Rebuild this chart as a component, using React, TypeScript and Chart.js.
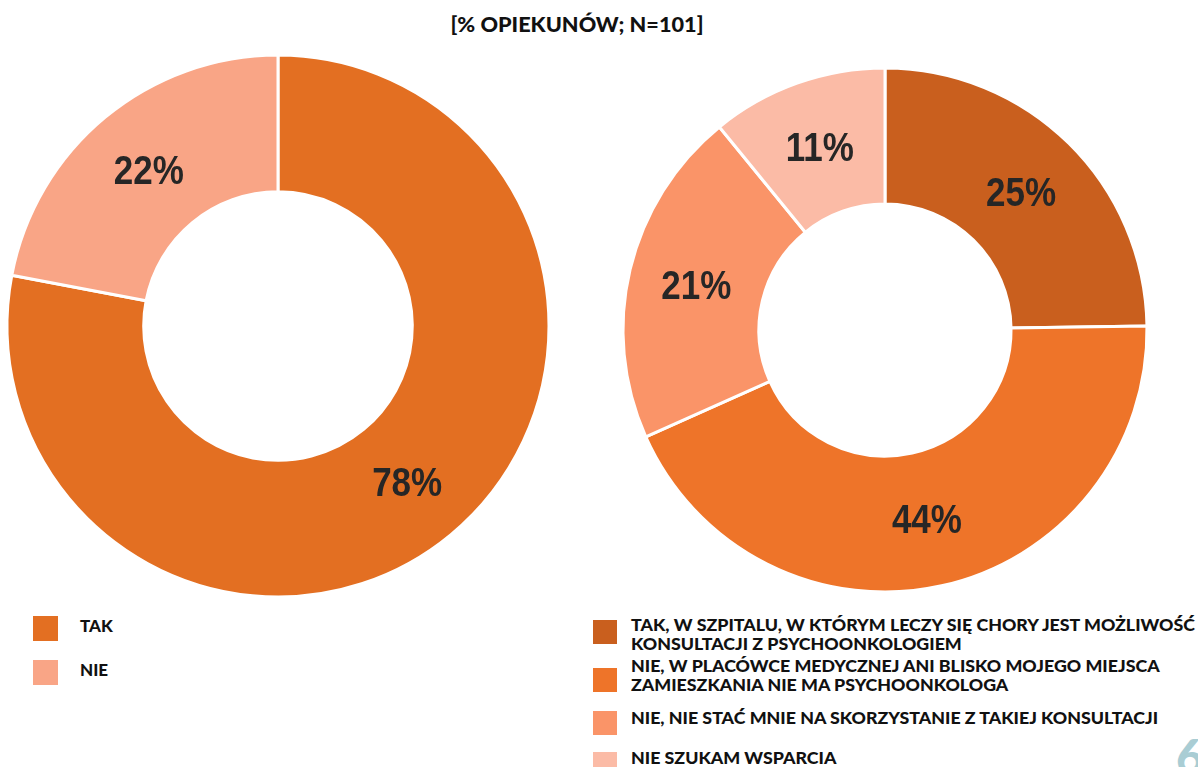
import React, { useEffect, useRef } from "react";
import { Chart, registerables } from "chart.js";

Chart.register(...registerables);

// ---- data ----
const titleText = "[% OPIEKUNÓW; N=101]";

const accessLabels = ["TAK", "NIE"];
const accessValues = [78, 22];
const accessColors = ["#E36F22", "#F9A586"];

const optionLabels = [
  ["TAK, W SZPITALU, W KTÓRYM LECZY SIĘ CHORY JEST MOŻLIWOŚĆ", "KONSULTACJI Z PSYCHOONKOLOGIEM"],
  ["NIE, W PLACÓWCE MEDYCZNEJ ANI BLISKO MOJEGO MIEJSCA", "ZAMIESZKANIA NIE MA PSYCHOONKOLOGA"],
  ["NIE, NIE STAĆ MNIE NA SKORZYSTANIE Z TAKIEJ KONSULTACJI"],
  ["NIE SZUKAM WSPARCIA"],
];
const optionValues = [25, 44, 21, 11];
const optionColors = ["#C95F1E", "#EE7429", "#FA9468", "#FBBBA6"];

const pageNumber = "6";

// ---- percentage labels drawn in the middle of each ring segment ----
const valueLabels = {
  id: "valueLabels",
  afterDatasetsDraw(chart: any) {
    const { ctx } = chart;
    const meta = chart.getDatasetMeta(0);
    const data = chart.data.datasets[0].data as number[];
    ctx.save();
    ctx.font = "bold 40px 'Liberation Sans', Arial, sans-serif";
    ctx.fillStyle = "#262626";
    ctx.textAlign = "center";
    ctx.textBaseline = "middle";
    meta.data.forEach((arc: any, i: number) => {
      const p = arc.tooltipPosition();
      ctx.save();
      ctx.translate(p.x, p.y + 3);
      ctx.scale(0.875, 1);
      ctx.fillText(`${data[i]}%`, 0, 0);
      ctx.restore();
    });
    ctx.restore();
  },
};

type DonutProps = {
  labels: string[];
  values: number[];
  colors: string[];
  radius: number;
  cutout: number;
  left: number;
  top: number;
  size: number;
};

function Donut({ labels, values, colors, radius, cutout, left, top, size }: DonutProps) {
  const ref = useRef<HTMLCanvasElement | null>(null);
  useEffect(() => {
    if (!ref.current) return;
    const chart = new Chart(ref.current, {
      type: "doughnut",
      data: {
        labels,
        datasets: [
          {
            data: values,
            backgroundColor: colors,
            borderColor: "#ffffff",
            borderWidth: 3,
          },
        ],
      },
      options: {
        animation: false,
        responsive: false,
        maintainAspectRatio: false,
        radius,
        cutout,
        rotation: 0,
        layout: { padding: 0 },
        plugins: {
          legend: { display: false },
          tooltip: { enabled: false },
          title: { display: false },
        },
      },
      plugins: [valueLabels],
    });
    return () => chart.destroy();
  }, []);
  return (
    <canvas
      ref={ref}
      width={size}
      height={size}
      style={{ position: "absolute", left, top, width: size, height: size }}
    />
  );
}

const legendFont = "Lato, 'Open Sans', sans-serif";

export default function App() {
  const rightTextTops = [615, 656, 708, 748];
  const rightSquareTops = [620, 668, 711, 752];
  return (
    <div
      style={{
        position: "fixed",
        left: 0,
        top: 0,
        width: 1198,
        height: 767,
        overflow: "hidden",
        background: "#ffffff",
      }}
    >
      <div
        style={{
          position: "absolute",
          left: 0,
          width: 1154,
          top: 11,
          textAlign: "center",
          fontFamily: legendFont,
          fontWeight: 900,
          fontSize: 21.7,
          color: "#111111",
        }}
      >
        {titleText}
      </div>

      <Donut
        labels={accessLabels}
        values={accessValues}
        colors={accessColors}
        radius={271}
        cutout={138}
        left={-2}
        top={46}
        size={560}
      />
      <Donut
        labels={optionLabels.map((l) => l.join(" "))}
        values={optionValues}
        colors={optionColors}
        radius={262}
        cutout={134}
        left={605}
        top={50}
        size={560}
      />

      {accessLabels.map((label, i) => (
        <div key={label}>
          <div
            style={{
              position: "absolute",
              left: 33,
              top: 616 + i * 44,
              width: 25,
              height: 25,
              background: accessColors[i],
            }}
          />
          <div
            style={{
              position: "absolute",
              left: 80,
              top: 613 + i * 44,
              height: 25,
              lineHeight: "25px",
              fontFamily: legendFont,
              fontWeight: 900,
              fontSize: 17,
              color: "#111111",
            }}
          >
            {label}
          </div>
        </div>
      ))}

      {optionLabels.map((lines, i) => (
        <div key={i}>
          <div
            style={{
              position: "absolute",
              left: 593,
              top: rightSquareTops[i],
              width: 24,
              height: 24,
              background: optionColors[i],
            }}
          />
          <div
            style={{
              position: "absolute",
              left: 631,
              top: rightTextTops[i],
              fontFamily: legendFont,
              fontWeight: 900,
              fontSize: 17.8,
              lineHeight: "19px",
              color: "#111111",
              whiteSpace: "nowrap",
            }}
          >
            {lines.map((t, j) => (
              <div key={j}>{t}</div>
            ))}
          </div>
        </div>
      ))}

      <div
        style={{
          position: "absolute",
          left: 1176,
          top: 727,
          fontFamily: "Lato, sans-serif",
          fontWeight: 900,
          fontSize: 48,
          color: "#A9CDD4",
        }}
      >
        {pageNumber}
      </div>
    </div>
  );
}
